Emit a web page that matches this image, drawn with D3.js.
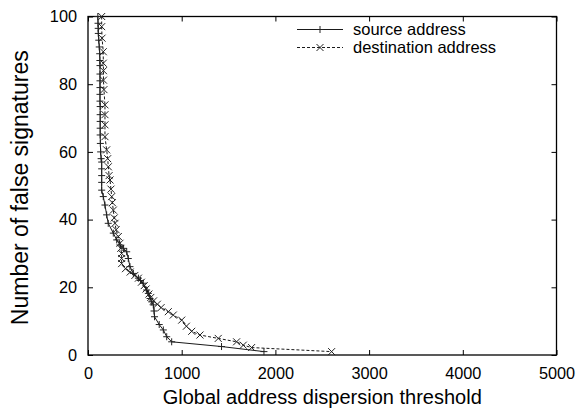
<!DOCTYPE html>
<html>
<head>
<meta charset="utf-8">
<script src="https://cdn.jsdelivr.net/npm/d3@7"></script>
<style>
  html, body { margin: 0; padding: 0; background: #fff; }
  svg { display: block; font-family: "Liberation Sans", Arial, Helvetica, sans-serif; }
</style>
</head>
<body>
<svg id="chart" width="580" height="408"></svg>
<script>
// ---- data ----
const xTicks = [0, 1000, 2000, 3000, 4000, 5000];
const yTicks = [0, 20, 40, 60, 80, 100];
const seriesNames = ["source address", "destination address"];

const srcX = [105,107,109,110,115,120,125,127,128,128,128,128,128,128,130,130,130,130,130,132,135,140,146,146,146,146,146,163,181,199,216,270,306,341,380,413,430,448,484,538,560,590,626,644,662,680,697,705,710,760,804,840,893,1425,1878];
const srcY = [100,98,96.5,95,93,91,89,87,85.5,83,81,79,77,75,73.4,71,69,67,65,62.5,60,58,57,55,53,51,48.7,46.8,44.3,41.4,38.9,36,34,32.5,31.5,30.5,28.5,26.1,24.1,22.7,22,21.2,19.2,18.2,16.7,15.7,14.8,13,11.3,9,7.4,5.4,3.9,2.5,1];

const dstX = [146,146,150,163,163,165,165,170,181,181,181,181,199,210,217,225,235,245,253,260,270,280,288,300,324,341,350,359,359,359,400,450,500,538,570,600,620,650,670,700,740,780,857,910,1000,1050,1107,1195,1390,1586,1657,1746,2600];
const dstY = [100,97,93.6,89.6,86.2,84,81.2,78.4,73.9,71,68,64.5,60.6,58,55.6,53,51.7,49,46.8,45,42.8,40.5,38.9,37,35,33,31.5,30,28.5,27,25.5,24.5,23.5,22.7,21.5,20.5,19.5,18,17,16,15,14,12.8,11.8,10.3,8.5,7.0,5.9,4.9,3.9,2.9,2.2,1];

// ---- layout ----
const svg = d3.select("#chart");
const L = 88, R = 556.5, T = 16.5, B = 355;
const x = d3.scaleLinear().domain([0, 5000]).range([L, R]);
const y = d3.scaleLinear().domain([0, 100]).range([B, T]);

const src = srcX.map((v, i) => [v, srcY[i]]);
const dst = dstX.map((v, i) => [v, dstY[i]]);

// axes
const axB = svg.append("g").attr("transform", `translate(0,${B})`)
  .call(d3.axisBottom(x).tickValues(xTicks).tickFormat(d3.format("d")).tickSizeInner(-5).tickSizeOuter(0).tickPadding(12));
const axT = svg.append("g").attr("transform", `translate(0,${T})`)
  .call(d3.axisTop(x).tickValues(xTicks).tickFormat("").tickSizeInner(-5).tickSizeOuter(0));
const axL = svg.append("g").attr("transform", `translate(${L},0)`)
  .call(d3.axisLeft(y).tickValues(yTicks).tickFormat(d3.format("d")).tickSizeInner(-5).tickSizeOuter(0).tickPadding(11));
const axR = svg.append("g").attr("transform", `translate(${R},0)`)
  .call(d3.axisRight(y).tickValues(yTicks).tickFormat("").tickSizeInner(-5).tickSizeOuter(0));

[axB, axT, axL, axR].forEach(g => {
  g.select(".domain").remove();
  g.selectAll(".tick line").attr("stroke", "#000").attr("stroke-width", 1);
  g.selectAll("text").attr("font-size", 16.3).attr("fill", "#000")
    .attr("font-family", "'Liberation Sans', Arial, sans-serif");
});

// frame
svg.append("rect").attr("x", L).attr("y", T).attr("width", R - L).attr("height", B - T)
  .attr("fill", "none").attr("stroke", "#000").attr("stroke-width", 1.3);

// lines
const line = d3.line().x(d => x(d[0])).y(d => y(d[1]));
svg.append("path").datum(src).attr("d", line).attr("fill", "none")
  .attr("stroke", "#000").attr("stroke-width", 0.9);
svg.append("path").datum(dst).attr("d", line).attr("fill", "none")
  .attr("stroke", "#000").attr("stroke-width", 0.9).attr("stroke-dasharray", "3,2");

const s = 3.5;
function plus(g, cx, cy) {
  g.append("path").attr("d", `M${cx - s},${cy}H${cx + s}M${cx},${cy - s}V${cy + s}`)
    .attr("stroke", "#222").attr("stroke-width", 1).attr("fill", "none");
}
function cross(g, cx, cy) {
  g.append("path").attr("d", `M${cx - s},${cy - s}L${cx + s},${cy + s}M${cx - s},${cy + s}L${cx + s},${cy - s}`)
    .attr("stroke", "#222").attr("stroke-width", 1).attr("fill", "none");
}
const gm = svg.append("g");
src.forEach(d => plus(gm, x(d[0]), y(d[1])));
dst.forEach(d => cross(gm, x(d[0]), y(d[1])));

// legend
const lg = svg.append("g");
const ly = [29.5, 47.5];
lg.append("line").attr("x1", 297).attr("x2", 343).attr("y1", ly[0]).attr("y2", ly[0])
  .attr("stroke", "#000").attr("stroke-width", 0.9);
plus(lg, 320, ly[0]);
lg.append("line").attr("x1", 297).attr("x2", 343).attr("y1", ly[1]).attr("y2", ly[1])
  .attr("stroke", "#000").attr("stroke-width", 0.9).attr("stroke-dasharray", "3,2");
cross(lg, 320, ly[1]);
seriesNames.forEach((n, i) => {
  lg.append("text").attr("x", 353).attr("y", ly[i]).attr("dy", "0.35em")
    .attr("font-size", 16.5).attr("fill", "#000").text(n);
});

// axis titles
svg.append("text").attr("x", (L + R) / 2).attr("y", 404).attr("text-anchor", "middle")
  .attr("font-size", 20).attr("fill", "#000").text("Global address dispersion threshold");
svg.append("text").attr("transform", `translate(28,${(T + B) / 2 + 2}) rotate(-90)`)
  .attr("text-anchor", "middle").attr("font-size", 23).attr("fill", "#000")
  .text("Number of false signatures");
</script>
</body>
</html>
